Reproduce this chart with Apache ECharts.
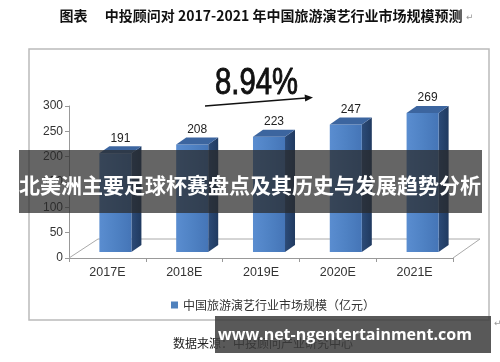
<!DOCTYPE html>
<html><head><meta charset="utf-8">
<script src="https://cdn.jsdelivr.net/npm/echarts@6/dist/echarts.min.js"></script>
<style>html,body{margin:0;padding:0;background:#fff}#c{width:500px;height:362px}</style>
</head><body><div id="c"></div>
<script>
const categories = ['2017E','2018E','2019E','2020E','2021E'];
const marketSize = [191, 208, 223, 247, 269];
const yTicks = [0, 50, 100, 150, 200, 250, 300];
const seriesName = '中国旅游演艺行业市场规模（亿元）';
const growthText = '8.94%';
const titleText = '图表\u3000 中投顾问对 2017-2021 年中国旅游演艺行业市场规模预测';
const sourceText = '数据来源：中投顾问产业研究中心';
const overlayText = '北美洲主要足球杯赛盘点及其历史与发展趋势分析';
const watermarkText = 'www.net-ngentertainment.com';

const chart = echarts.init(document.getElementById('c'), null, {renderer:'canvas'});
const DX = 10, DY = 7;
const option = {
  backgroundColor: '#fff',
  animation: false,
  grid: [
    {left: 69, right: 47, top: 106, bottom: 104},
    {left: 77, right: 39, top: 97, bottom: 110}
  ],
  xAxis: [
    {gridIndex: 0, type: 'category', data: categories, boundaryGap: true,
     axisLine: {lineStyle: {color: '#999'}},
     axisTick: {show: true, alignWithLabel: false, length: 4, lineStyle: {color: '#999'}},
     axisLabel: {color: '#333', fontSize: 12.5, fontFamily: 'Liberation Sans, Arial', margin: 8}},
    {gridIndex: 1, type: 'category', data: categories, show: false}
  ],
  yAxis: [
    {gridIndex: 0, type: 'value', min: 0, max: 300, interval: 50,
     axisLine: {show: true, lineStyle: {color: '#999'}},
     axisTick: {show: true, length: 4, lineStyle: {color: '#999'}},
     splitLine: {show: false},
     axisLabel: {color: '#333', fontSize: 12, fontFamily: 'Liberation Sans, Arial', margin: 6,
       formatter: v => yTicks.includes(v) ? String(v) : ''}},
    {gridIndex: 1, type: 'value', min: 0, max: 300, show: false}
  ],
  legend: {
    left: 166, top: 294, itemWidth: 7, itemHeight: 7, itemGap: 5, icon: 'rect',
    data: [{name: seriesName, icon: 'rect'}],
    textStyle: {color: '#333', fontSize: 12, fontFamily: 'Noto Sans CJK SC'}
  },
  series: [
    {
      type: 'custom', xAxisIndex: 0, yAxisIndex: 0, silent: true, z: 1,
      data: [[0, 0]],
      renderItem: function (params, api) {
        const cs = params.coordSys;
        const x = cs.x, y = cs.y + cs.height, w = cs.width;
        return {type: 'polyline', shape: {points: [[x, y], [x + 29, y - 19], [x + w + 27, y - 19], [x + w, y]]},
          style: {stroke: '#aaa', lineWidth: 1, fill: null}};
      }
    },
    {
      name: seriesName, type: 'custom', xAxisIndex: 1, yAxisIndex: 1, z: 3,
      itemStyle: {color: '#4f81bd'},
      data: marketSize.map((v, i) => [i, v]),
      renderItem: function (params, api) {
        const pt = api.coord([api.value(0), api.value(1)]);
        const base = api.coord([api.value(0), 0]);
        const w = api.size([1, 0])[0] * 0.417;
        const x0 = pt[0] - w / 2, top = pt[1], bot = base[1];
        return {type: 'group', children: [
          {type: 'polygon', shape: {points: [[x0 + w, top], [x0 + w + DX, top - DY], [x0 + w + DX, bot - DY], [x0 + w, bot]]},
           style: {fill: new echarts.graphic.LinearGradient(0, 0, 1, 0, [{offset: 0, color: '#2c4b78'}, {offset: 1, color: '#203a60'}])}},
          {type: 'rect', shape: {x: x0, y: top, width: w, height: bot - top},
           style: {fill: new echarts.graphic.LinearGradient(0, 0, 1, 0, [{offset: 0, color: '#5a8dd0'}, {offset: 0.5, color: '#4f82c4'}, {offset: 1, color: '#4575b7'}])}},
          {type: 'polygon', shape: {points: [[x0, top], [x0 + DX, top - DY], [x0 + w + DX, top - DY], [x0 + w, top]]},
           style: {fill: '#3c659f'}},
          {type: 'text', x: x0 + w / 2 + DX / 2, y: top - 15,
           style: {text: String(api.value(1)), fill: '#222', font: '12px "Liberation Sans", Arial', align: 'center', verticalAlign: 'middle'}}
        ]};
      }
    }
  ],
  graphic: [
    {type: 'rect', z: -10, shape: {x: 29, y: 49, width: 460, height: 271}, style: {fill: '#fff', stroke: '#bbb', lineWidth: 1.5}},
    {type: 'text', z: 10, x: 261, y: 16, style: {text: titleText, fill: '#111', font: 'bold 14px "Noto Sans CJK SC"', align: 'center', verticalAlign: 'middle'}},
    {type: 'text', z: 10, x: 466, y: 18, style: {text: '↵', fill: '#999', font: '9px "DejaVu Sans"', verticalAlign: 'middle'}},
    {type: 'text', z: 10, x: 215, y: 84, scaleX: 0.79, style: {text: growthText, fill: '#111', stroke: '#111', lineWidth: 0.9, font: '37px "Liberation Sans", Arial', verticalAlign: 'middle'}},
    {type: 'polyline', z: 10, shape: {points: [[205, 106], [306, 98]]}, style: {stroke: '#111', lineWidth: 1.5}},
    {type: 'polygon', z: 10, shape: {points: [[313, 97.4], [305.2, 101.5], [304.6, 94.5]]}, style: {fill: '#111'}},
    {type: 'text', z: 10, x: 173, y: 343, style: {text: sourceText, fill: '#222', font: '12px "Noto Sans CJK SC"', verticalAlign: 'middle'}},
    {type: 'text', z: 10, x: 494, y: 324, style: {text: '↵', fill: '#999', font: '9px "DejaVu Sans"', verticalAlign: 'middle'}},
    {type: 'rect', z: 100, shape: {x: 19, y: 150, width: 463, height: 63}, style: {fill: 'rgba(42,42,42,0.72)'}},
    {type: 'text', z: 101, x: 250, y: 185, style: {text: overlayText, fill: '#fff', font: 'bold 21px "Noto Sans CJK SC"', align: 'center', verticalAlign: 'middle'}},
    {type: 'rect', z: 100, shape: {x: 215, y: 316, width: 276, height: 37}, style: {fill: 'rgba(60,60,60,0.85)'}},
    {type: 'text', z: 101, x: 218, y: 335, style: {text: watermarkText, fill: '#fff', font: 'bold 16px "Open Sans"', verticalAlign: 'middle'}}
  ]
};
chart.setOption(option);
</script></body></html>
